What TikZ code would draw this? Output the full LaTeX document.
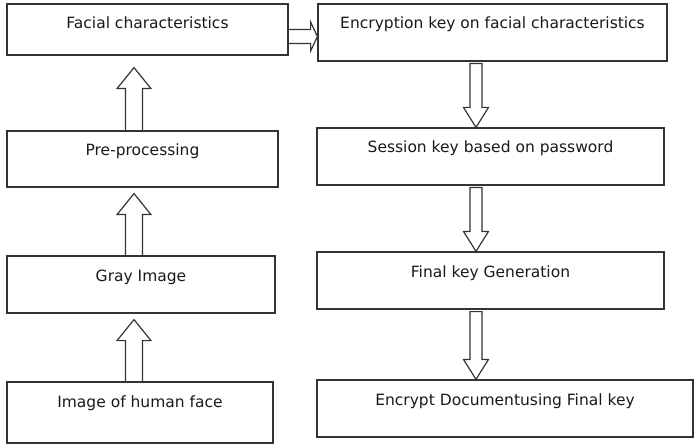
\documentclass[tikz,border=0pt]{standalone}
\usepackage{fontspec}
\setmainfont{DejaVu Sans}
\usetikzlibrary{calc,positioning}

\tikzset{
    stage/.style={draw=black!80, line width=1.2pt, rectangle, inner sep=0pt,
        text height=25pt, font=\fontsize{15.5}{18}\selectfont, text=black!90},
    blk/.style={draw=black!80, line width=1.2pt, line join=miter}
}

% hollow block arrows
\newcommand{\blkup}[3]{%
    \draw[blk] ($(#1.north -| lx)+(-8.5,0)$) -- ($(#2.south -| lx)+(-8.5,#3+21)$) -- ++(-8.5,0)
        -- ($(#2.south -| lx)+(0,#3)$) -- ($(#2.south -| lx)+(17,#3+21)$) -- ++(-8.5,0)
        -- ($(#1.north -| lx)+(8.5,0)$);}
\newcommand{\blkdown}[2]{%
    \draw[blk] ($(#1.south -| rx)+(-6,2)$) -- ($(#2.north -| rx)+(-6,-20)$) -- ++(-6.5,0)
        -- (#2.north -| rx) -- ++(12.5,-20) -- ++(-6.5,0)
        -- ($(#1.south -| rx)+(6,2)$) -- cycle;}

\begin{document}
\begin{tikzpicture}[x=1pt, y=-1pt]
    \useasboundingbox (0,0) rectangle (695,446);
    \coordinate (lx) at (134,0);
    \coordinate (rx) at (476,0);

    \node[stage, minimum width=281pt, text depth=26pt] (fc) at (147.5, 29.5) {Facial characteristics};
    \node[stage, minimum width=271pt, text depth=31pt] (pre) at (142.5, 159) {Pre-processing};
    \node[stage, minimum width=268pt, text depth=32pt] (gray) at (141, 284.5) {Gray Image};
    \node[stage, minimum width=266pt, text depth=36pt] (face) at (140, 412.5) {Image of human face};

    \node[stage, minimum width=349pt, text depth=32pt] (enc) at (492.5, 32.5) {Encryption key on facial characteristics};
    \node[stage, minimum width=347pt, text depth=32pt] (sess) at (490.5, 156.5) {Session key based on password};
    \node[stage, minimum width=347pt, text depth=32pt] (fin) at (490.5, 280.5) {Final key Generation};
    \node[stage, minimum width=376pt, text depth=32pt] (doc) at (505, 408.5) {Encrypt Documentusing Final key};

    \blkup{face}{gray}{6}
    \blkup{gray}{pre}{6}
    \blkup{pre}{fc}{12}

    \draw[blk] (fc.east) -- ++(22,0) -- ++(0,-7.5) -- ($(enc.west)+(0,4)$)
        -- ($(fc.east)+(22,21.5)$) -- ++(0,-7.5) -- ++(-22,0);

    \blkdown{enc}{sess}
    \blkdown{sess}{fin}
    \blkdown{fin}{doc}
\end{tikzpicture}
\end{document}
